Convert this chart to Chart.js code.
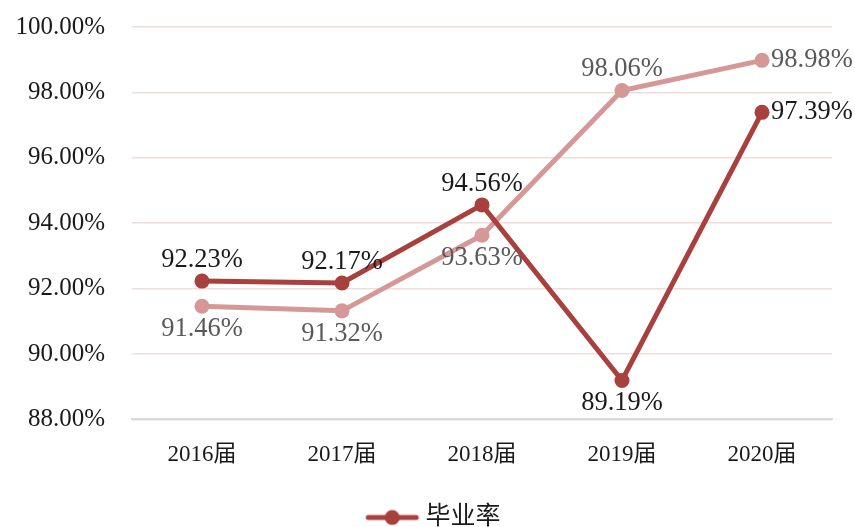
<!DOCTYPE html>
<html>
<head>
<meta charset="utf-8">
<script src="https://cdn.jsdelivr.net/npm/chart.js@4"></script>
<style>
  html, body { margin: 0; padding: 0; background: #fff; overflow: hidden; }
  #wrap { width: 855px; height: 540px; }
</style>
</head>
<body>
<div id="wrap"><canvas id="chart"></canvas></div>
<script>
// 데이터
const categories = ['2016届', '2017届', '2018届', '2019届', '2020届'];
const rateMain = [92.23, 92.17, 94.56, 89.19, 97.39];   // 毕业率
const rateOther = [91.46, 91.32, 93.63, 98.06, 98.98];  // 두번째 선 (범례 없음)
const yTicks = [88, 90, 92, 94, 96, 98, 100];

// 라벨 위치
const mainLabelPos = ['top', 'top', 'top', 'bottom', 'right'];
const otherLabelPos = ['bottom', 'bottom', 'bottom', 'top', 'right'];

const FONT = "'Liberation Serif', 'Times New Roman', 'Noto Sans CJK SC', serif";
const DARK = '#A8403E';
const LIGHT = '#D59896';

// 범례용 아이콘 (선 + 점) - 왼쪽 여백 포함
const legendIcon = document.createElement('canvas');
legendIcon.width = 100; legendIcon.height = 18;
(function(){
  const c = legendIcon.getContext('2d');
  c.strokeStyle = DARK; c.lineWidth = 5; c.lineCap = 'round';
  c.beginPath(); c.moveTo(46, 9); c.lineTo(94, 9); c.stroke();
  c.fillStyle = DARK;
  c.beginPath(); c.arc(70, 9, 7.5, 0, Math.PI * 2); c.fill();
})();

const valueLabels = {
  id: 'valueLabels',
  afterDatasetsDraw(chart) {
    const ctx = chart.ctx;
    ctx.save();
    ctx.font = '26.5px ' + FONT;
    chart.data.datasets.forEach((ds, i) => {
      const meta = chart.getDatasetMeta(i);
      meta.data.forEach((pt, j) => {
        const pos = ds.labelPos[j];
        const text = ds.data[j].toFixed(2) + '%';
        ctx.fillStyle = ds.labelColor;
        let x = pt.x, y = pt.y;
        if (pos === 'top') { ctx.textAlign = 'center'; y -= 21; }
        else if (pos === 'bottom') { ctx.textAlign = 'center'; y += 23; }
        else { ctx.textAlign = 'left'; x += 9; }
        ctx.textBaseline = 'middle';
        ctx.fillText(text, x, y);
      });
    });
    ctx.restore();
  }
};

document.addEventListener('DOMContentLoaded', () => {
  const ctx = document.getElementById('chart').getContext('2d');
  new Chart(ctx, {
    type: 'line',
    data: {
      labels: categories,
      datasets: [
        {
          label: '毕业率',
          data: rateMain,
          borderColor: DARK,
          backgroundColor: DARK,
          borderWidth: 5,
          pointRadius: 7.5,
          pointBackgroundColor: DARK,
          pointBorderWidth: 0,
          labelPos: mainLabelPos,
          labelColor: '#1a1a1a',
          pointStyle: 'circle'
        },
        {
          label: 'other',
          data: rateOther,
          borderColor: LIGHT,
          backgroundColor: LIGHT,
          borderWidth: 5,
          pointRadius: 7.5,
          pointBackgroundColor: LIGHT,
          pointBorderWidth: 0,
          labelPos: otherLabelPos,
          labelColor: '#595959',
          pointStyle: 'circle'
        }
      ]
    },
    options: {
      responsive: true,
      maintainAspectRatio: false,
      animation: false,
      events: [],
      layout: { padding: { top: 27, right: 23, left: 0, bottom: 0 } },
      scales: {
        x: {
          offset: true,
          grid: { display: false, drawTicks: false },
          border: { color: '#D9D9D9', width: 2 },
          ticks: { color: '#1a1a1a', font: { family: FONT, size: 23 }, padding: 22 }
        },
        y: {
          min: 88, max: 100,
          afterBuildTicks: (scale) => { scale.ticks = yTicks.map(v => ({ value: v })); },
          afterFit: (scale) => { scale.width = 132; scale.paddingTop = 0; scale.paddingBottom = 0; },
          grid: { color: '#F2DCDB', lineWidth: 1.5, drawTicks: false },
          border: { display: false },
          ticks: {
            color: '#1a1a1a',
            font: { family: FONT, size: 25 },
            padding: 27,
            callback: v => v.toFixed(2) + '%'
          }
        }
      },
      plugins: {
        tooltip: { enabled: false },
        legend: {
          position: 'bottom',
          labels: {
            usePointStyle: true,
            pointStyleWidth: 81.5,
            color: '#1a1a1a',
            font: { family: FONT, size: 25 },
            padding: 14,
            generateLabels: (chart) => [{
              text: '毕业率',
              pointStyle: legendIcon,
              datasetIndex: 0,
              fillStyle: DARK,
              strokeStyle: DARK,
              lineWidth: 0,
              fontColor: '#1a1a1a'
            }]
          }
        }
      }
    },
    plugins: [valueLabels]
  });
});
</script>
</body>
</html>
